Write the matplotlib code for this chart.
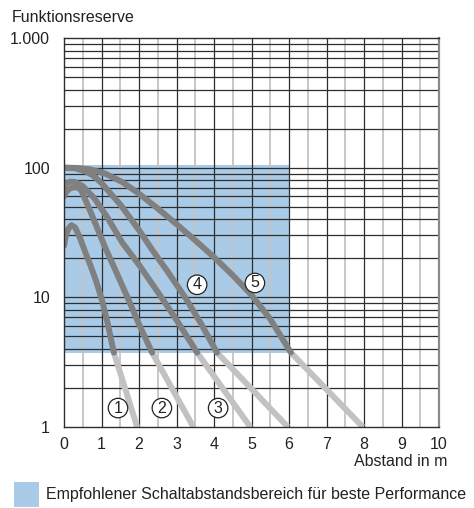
import matplotlib
matplotlib.use("Agg")
import matplotlib.pyplot as plt  # noqa: E402
from matplotlib.patches import Rectangle  # noqa: E402

plt.rcParams["font.family"] = ["Liberation Sans", "DejaVu Sans"]

C_BLUE = "#a9cbe8"
C_DARK = "#808080"
C_LIGHT = "#c2c2c2"
C_GRID = "#2e2e2e"
C_TEXT = "#222222"

# Functional reserve over distance, one list pair per curve (1..5)
C1_X = [0.0, 0.05, 0.12, 0.2, 0.3, 0.42, 0.55, 0.7, 0.85, 1.01, 1.17, 1.33, 1.95]
C1_Y = [25, 30, 34, 36, 34.5, 29, 23, 17.8, 13.5, 9.6, 6.2, 3.75, 1.0]
C2_X = [0.0, 0.06, 0.15, 0.3, 0.45, 0.65, 0.85, 1.09, 1.4, 1.7, 2.0, 2.35, 3.45]
C2_Y = [60, 65, 69, 71, 68, 50, 36.3, 24.5, 15.5, 9.9, 6.2, 3.75, 1.0]
C3_X = [0.0, 0.07, 0.17, 0.3, 0.5, 0.8, 1.15, 1.55, 2.0, 2.5, 3.0, 3.55, 4.97]
C3_Y = [72, 76, 78, 77.5, 72, 58.5, 41.7, 26.5, 17.8, 11, 6.7, 3.75, 1.0]
C4_X = [0.0, 0.3, 0.6, 0.8, 1.0, 1.5, 2.0, 2.35, 2.75, 3.23, 3.65, 4.08, 5.97]
C4_Y = [100, 99, 93, 86, 76, 52, 33, 23.3, 16, 10, 6.3, 3.75, 1.0]
C5_X = [0.0, 0.35, 0.7, 1.1, 1.57, 2.0, 2.5, 3.0, 3.5, 4.0, 4.5, 5.0, 5.5, 6.05, 7.97]
C5_Y = [100, 99.5, 97, 90, 77, 63, 48.4, 36.7, 27.5, 20.4, 14.8, 10.4, 6.8, 3.75, 1.0]
CURVES = [(C1_X, C1_Y), (C2_X, C2_Y), (C3_X, C3_Y), (C4_X, C4_Y), (C5_X, C5_Y)]
CURVE_NAMES = ["1", "2", "3", "4", "5"]
NAME_POS = [(1.44, 1.4), (2.61, 1.4), (4.11, 1.4), (3.55, 12.5), (5.09, 12.9)]

# recommended switching range
RANGE_X = [0, 6]
RANGE_Y = [3.75, 105]

X_TICKS = list(range(0, 11))
Y_TICKS = [1, 10, 100, 1000]
Y_TICK_LABELS = ["1", "10", "100", "1.000"]

fig = plt.figure(figsize=(4.74, 5.08), dpi=100)
ax = fig.add_axes([64 / 474, 1 - 427 / 508, 375 / 474, 389 / 508])
ax.set_yscale("log")
ax.set_xlim(0, 10)
ax.set_ylim(1, 1000)

ax.add_patch(Rectangle((RANGE_X[0], RANGE_Y[0]), RANGE_X[1] - RANGE_X[0],
                       RANGE_Y[1] - RANGE_Y[0], fc=C_BLUE, ec="none", zorder=1))

# grid: light half-metre lines, dark metre lines, dark 1..9 per decade
for xv in [i + 0.5 for i in range(10)]:
    ax.axvline(xv, color="#c4c4c4", lw=1.3, zorder=2)
for xv in range(1, 10):
    ax.axvline(xv, color=C_GRID, lw=0.9, zorder=2)
for dec in [1, 10, 100]:
    for m in range(2, 10):
        ax.axhline(dec * m, color=C_GRID, lw=0.9, zorder=2)
for yv in [10, 100]:
    ax.axhline(yv, color=C_GRID, lw=0.9, zorder=2)

# dark inside the recommended range, light below it
for xs, ys in CURVES:
    dark = [(x, y) for x, y in zip(xs, ys) if y >= RANGE_Y[0]]
    light = [(x, y) for x, y in zip(xs, ys) if y <= RANGE_Y[0]]
    ax.plot(*zip(*light), color=C_LIGHT, lw=4.3, solid_capstyle="butt", zorder=3)
    ax.plot(*zip(*dark), color=C_DARK, lw=4.3, solid_capstyle="round",
            solid_joinstyle="round", zorder=4)

for name, (px, py) in zip(CURVE_NAMES, NAME_POS):
    ax.text(px, py, name, ha="center", va="center", fontsize=11.5, zorder=5,
            color=C_TEXT,
            bbox=dict(boxstyle="circle,pad=0.14", fc="white", ec=C_TEXT, lw=0.9))

for side in ["left", "bottom", "top"]:
    ax.spines[side].set_color(C_GRID)
    ax.spines[side].set_linewidth(1.0)
ax.spines["right"].set_color("#8a8a8a")
ax.spines["right"].set_linewidth(1.6)
for sp in ax.spines.values():
    sp.set_zorder(6)

ax.set_xticks(X_TICKS)
ax.set_yticks(Y_TICKS)
ax.set_yticklabels(Y_TICK_LABELS)
ax.yaxis.set_minor_locator(matplotlib.ticker.NullLocator())
ax.tick_params(axis="both", length=0, labelsize=11.5, colors=C_TEXT)
ax.tick_params(axis="x", pad=7)
ax.tick_params(axis="y", pad=10)

fig.text(12 / 474, 1 - 17 / 508, "Funktionsreserve", fontsize=11.5, va="center",
         color=C_TEXT)
fig.text(447 / 474, 1 - 461 / 508, "Abstand in m", fontsize=11.5, va="center",
         ha="right", color=C_TEXT)
fig.patches.append(Rectangle((14 / 474, 1 - 507 / 508), 25 / 474, 25 / 508,
                             transform=fig.transFigure, fc=C_BLUE, ec="none"))
fig.text(46 / 474, 1 - 495 / 508, "Empfohlener Schaltabstandsbereich für beste Performance",
         fontsize=11.5, va="center", color=C_TEXT)

fig.savefig("out.png", dpi=100)
